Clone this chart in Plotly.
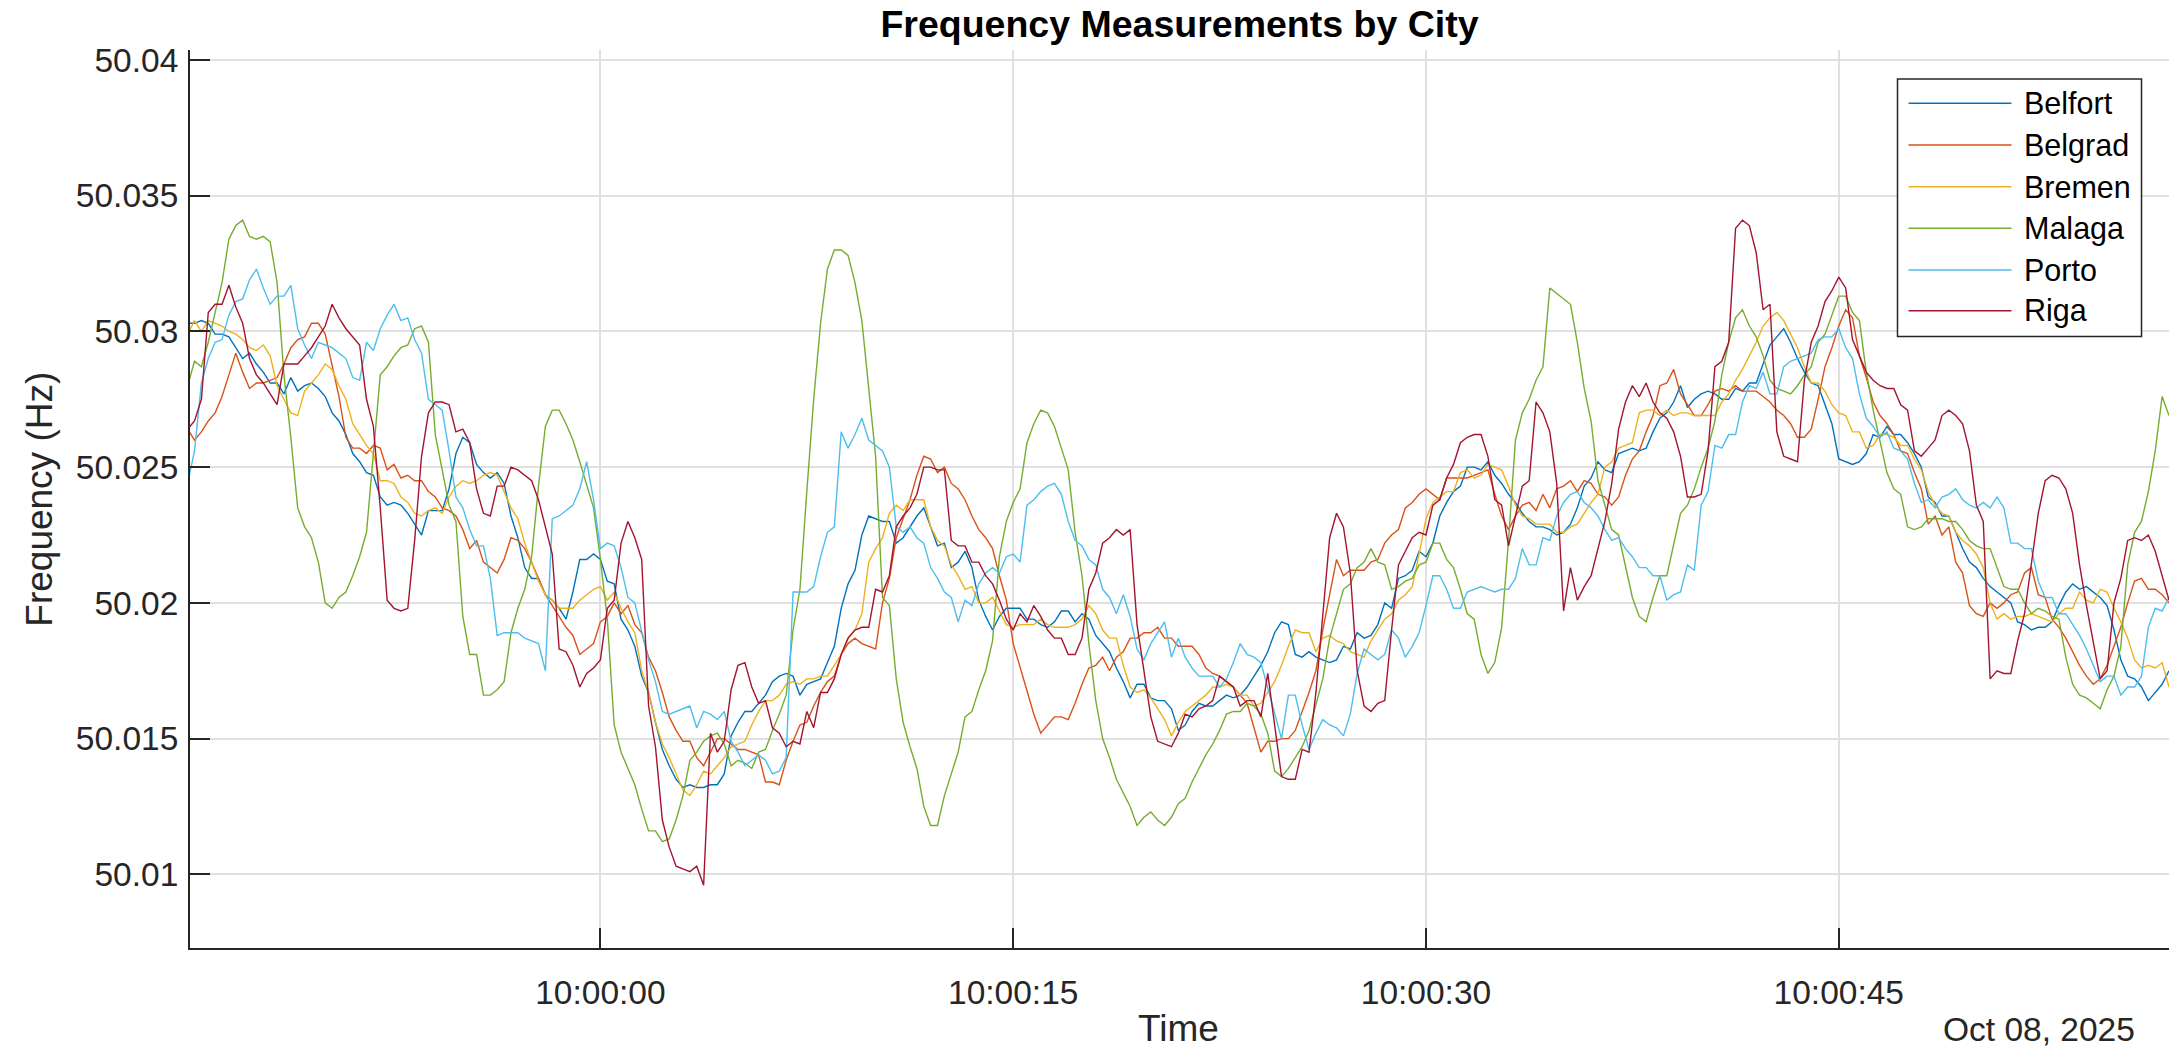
import pandas as pd
import plotly.graph_objects as go

# ---- data: grid frequency per city (Hz), sampled every 0.25 s from 09:59:45 ----
START = "2025-10-08 09:59:45"
STEP_S = 0.25

cities = ["Belfort", "Belgrad", "Bremen", "Malaga", "Porto", "Riga"]

belfort = [
    50.0303, 50.0303, 50.0304, 50.0303, 50.0299, 50.0299, 50.0298, 50.0294, 50.0290, 50.0292, 50.0288, 50.0285, 50.0281, 50.0281, 50.0277, 50.0283, 50.0278, 50.0280,
    50.0281, 50.0279, 50.0276, 50.0270, 50.0267, 50.0262, 50.0255, 50.0252, 50.0248, 50.0247, 50.0239, 50.0236, 50.0237, 50.0236, 50.0233, 50.0229, 50.0225, 50.0234,
    50.0234, 50.0234, 50.0242, 50.0255, 50.0261, 50.0259, 50.0251, 50.0248, 50.0246, 50.0248, 50.0244, 50.0232, 50.0224, 50.0213, 50.0209, 50.0209, 50.0203, 50.0201,
    50.0198, 50.0194, 50.0204, 50.0216, 50.0216, 50.0218, 50.0216, 50.0208, 50.0207, 50.0194, 50.0190, 50.0184, 50.0173, 50.0167, 50.0156, 50.0146, 50.0140, 50.0135,
    50.0132, 50.0133, 50.0132, 50.0132, 50.0133, 50.0133, 50.0137, 50.0151, 50.0156, 50.0160, 50.0160, 50.0163, 50.0166, 50.0171, 50.0173, 50.0174, 50.0173, 50.0166,
    50.0170, 50.0171, 50.0172, 50.0178, 50.0184, 50.0198, 50.0207, 50.0212, 50.0225, 50.0232, 50.0231, 50.0230, 50.0230, 50.0222, 50.0224, 50.0228, 50.0232, 50.0235,
    50.0228, 50.0221, 50.0222, 50.0213, 50.0215, 50.0219, 50.0213, 50.0201, 50.0195, 50.0190, 50.0195, 50.0198, 50.0198, 50.0198, 50.0194, 50.0194, 50.0192, 50.0191,
    50.0193, 50.0197, 50.0197, 50.0193, 50.0196, 50.0194, 50.0188, 50.0185, 50.0182, 50.0176, 50.0171, 50.0165, 50.0170, 50.0170, 50.0165, 50.0164, 50.0164, 50.0161,
    50.0153, 50.0155, 50.0160, 50.0163, 50.0162, 50.0162, 50.0164, 50.0166, 50.0165, 50.0166, 50.0169, 50.0173, 50.0177, 50.0182, 50.0189, 50.0193, 50.0192, 50.0181,
    50.0180, 50.0182, 50.0180, 50.0179, 50.0178, 50.0179, 50.0184, 50.0183, 50.0189, 50.0187, 50.0188, 50.0192, 50.0200, 50.0198, 50.0209, 50.0210, 50.0212, 50.0219,
    50.0217, 50.0222, 50.0232, 50.0237, 50.0241, 50.0243, 50.0250, 50.0250, 50.0249, 50.0252, 50.0247, 50.0244, 50.0240, 50.0237, 50.0233, 50.0230, 50.0228, 50.0228,
    50.0227, 50.0225, 50.0226, 50.0229, 50.0235, 50.0243, 50.0246, 50.0252, 50.0249, 50.0248, 50.0255, 50.0256, 50.0257, 50.0256, 50.0257, 50.0263, 50.0268, 50.0270,
    50.0274, 50.0280, 50.0272, 50.0275, 50.0277, 50.0278, 50.0277, 50.0275, 50.0275, 50.0279, 50.0278, 50.0281, 50.0281, 50.0288, 50.0295, 50.0298, 50.0301, 50.0296,
    50.0290, 50.0285, 50.0281, 50.0280, 50.0273, 50.0266, 50.0253, 50.0252, 50.0251, 50.0252, 50.0255, 50.0262, 50.0261, 50.0265, 50.0262, 50.0262, 50.0259,
    50.0255, 50.0250, 50.0239, 50.0237, 50.0232, 50.0232, 50.0226, 50.0220, 50.0215, 50.0213, 50.0209, 50.0206, 50.0204, 50.0202, 50.0200, 50.0193, 50.0192, 50.0190, 50.0191,
    50.0191, 50.0193, 50.0199, 50.0204, 50.0207, 50.0205, 50.0206, 50.0204, 50.0202, 50.0199, 50.0190, 50.0179, 50.0173, 50.0172, 50.0169, 50.0164, 50.0167, 50.0170, 50.0175,
]

belgrad = [
    50.0264, 50.0260, 50.0263, 50.0267, 50.0270, 50.0276, 50.0284, 50.0292, 50.0285, 50.0279, 50.0281, 50.0281, 50.0282, 50.0283, 50.0288, 50.0294, 50.0297, 50.0298,
    50.0303, 50.0303, 50.0299, 50.0287, 50.0276, 50.0261, 50.0257, 50.0257, 50.0255, 50.0258, 50.0257, 50.0249, 50.0251, 50.0246, 50.0247, 50.0245, 50.0245, 50.0241,
    50.0239, 50.0235, 50.0234, 50.0232, 50.0227, 50.0220, 50.0223, 50.0215, 50.0213, 50.0211, 50.0216, 50.0224, 50.0223, 50.0220, 50.0215, 50.0209, 50.0203, 50.0199,
    50.0195, 50.0191, 50.0188, 50.0181, 50.0183, 50.0185, 50.0193, 50.0195, 50.0200, 50.0196, 50.0199, 50.0192, 50.0189, 50.0180, 50.0175, 50.0167, 50.0158, 50.0153,
    50.0149, 50.0149, 50.0143, 50.0140, 50.0145, 50.0150, 50.0150, 50.0148, 50.0146, 50.0146, 50.0145, 50.0144, 50.0134, 50.0134, 50.0133, 50.0142, 50.0149, 50.0155,
    50.0156, 50.0162, 50.0167, 50.0171, 50.0173, 50.0181, 50.0185, 50.0187, 50.0185, 50.0184, 50.0183, 50.0200, 50.0209, 50.0224, 50.0231, 50.0238, 50.0247, 50.0254,
    50.0253, 50.0248, 50.0250, 50.0244, 50.0242, 50.0238, 50.0232, 50.0227, 50.0224, 50.0220, 50.0210, 50.0201, 50.0185, 50.0176, 50.0168, 50.0159, 50.0152, 50.0155,
    50.0158, 50.0158, 50.0157, 50.0163, 50.0170, 50.0176, 50.0177, 50.0180, 50.0175, 50.0180, 50.0182, 50.0187, 50.0187, 50.0189, 50.0189, 50.0191, 50.0187, 50.0187,
    50.0184, 50.0184, 50.0184, 50.0181, 50.0176, 50.0174, 50.0173, 50.0171, 50.0169, 50.0166, 50.0163, 50.0154, 50.0145, 50.0149, 50.0149, 50.0150, 50.0150, 50.0153,
    50.0160, 50.0167, 50.0175, 50.0190, 50.0203, 50.0216, 50.0210, 50.0212, 50.0212, 50.0212, 50.0215, 50.0216, 50.0222, 50.0225, 50.0227, 50.0235, 50.0237, 50.0240,
    50.0242, 50.0240, 50.0238, 50.0246, 50.0246, 50.0246, 50.0246, 50.0247, 50.0248, 50.0249, 50.0240, 50.0232, 50.0227, 50.0232, 50.0236, 50.0237, 50.0234, 50.0240,
    50.0235, 50.0242, 50.0243, 50.0245, 50.0241, 50.0245, 50.0244, 50.0240, 50.0239, 50.0236, 50.0239, 50.0247, 50.0253, 50.0256, 50.0263, 50.0269, 50.0280, 50.0281,
    50.0286, 50.0277, 50.0273, 50.0269, 50.0269, 50.0273, 50.0278, 50.0279, 50.0278, 50.0280, 50.0278, 50.0278, 50.0278, 50.0276, 50.0274, 50.0271, 50.0269, 50.0266,
    50.0261, 50.0261, 50.0264, 50.0275, 50.0287, 50.0294, 50.0302, 50.0308, 50.0305, 50.0291, 50.0283, 50.0274, 50.0269, 50.0266, 50.0262, 50.0256, 50.0255,
    50.0248, 50.0242, 50.0229, 50.0232, 50.0225, 50.0228, 50.0215, 50.0211, 50.0199, 50.0196, 50.0195, 50.0200, 50.0198, 50.0200, 50.0203, 50.0204, 50.0211, 50.0213, 50.0203,
    50.0202, 50.0194, 50.0191, 50.0187, 50.0182, 50.0177, 50.0173, 50.0170, 50.0172, 50.0177, 50.0184, 50.0191, 50.0200, 50.0208, 50.0209, 50.0205, 50.0205, 50.0203, 50.0200,
]

bremen = [
    50.0299, 50.0304, 50.0300, 50.0304, 50.0303, 50.0302, 50.0300, 50.0299, 50.0297, 50.0294, 50.0293, 50.0295, 50.0291, 50.0280, 50.0275, 50.0270, 50.0269, 50.0278,
    50.0281, 50.0284, 50.0288, 50.0286, 50.0280, 50.0275, 50.0266, 50.0262, 50.0258, 50.0255, 50.0245, 50.0245, 50.0244, 50.0239, 50.0237, 50.0233, 50.0232, 50.0234,
    50.0235, 50.0233, 50.0239, 50.0243, 50.0245, 50.0244, 50.0245, 50.0247, 50.0248, 50.0247, 50.0241, 50.0235, 50.0231, 50.0222, 50.0215, 50.0208, 50.0203, 50.0201,
    50.0198, 50.0198, 50.0198, 50.0201, 50.0203, 50.0205, 50.0206, 50.0201, 50.0204, 50.0198, 50.0193, 50.0189, 50.0175, 50.0167, 50.0156, 50.0148, 50.0143, 50.0137,
    50.0131, 50.0129, 50.0133, 50.0138, 50.0137, 50.0140, 50.0143, 50.0147, 50.0148, 50.0149, 50.0155, 50.0160, 50.0164, 50.0164, 50.0166, 50.0170, 50.0171, 50.0170,
    50.0172, 50.0172, 50.0173, 50.0173, 50.0177, 50.0181, 50.0187, 50.0190, 50.0196, 50.0215, 50.0220, 50.0224, 50.0233, 50.0236, 50.0234, 50.0238, 50.0238, 50.0238,
    50.0228, 50.0223, 50.0221, 50.0214, 50.0210, 50.0205, 50.0206, 50.0200, 50.0200, 50.0202, 50.0197, 50.0192, 50.0191, 50.0192, 50.0192, 50.0192, 50.0194, 50.0192,
    50.0191, 50.0191, 50.0191, 50.0192, 50.0194, 50.0199, 50.0196, 50.0190, 50.0187, 50.0187, 50.0177, 50.0169, 50.0167, 50.0168, 50.0165, 50.0161, 50.0157, 50.0151,
    50.0156, 50.0160, 50.0162, 50.0164, 50.0166, 50.0169, 50.0169, 50.0170, 50.0169, 50.0166, 50.0166, 50.0162, 50.0163, 50.0167, 50.0171, 50.0177, 50.0184, 50.0190,
    50.0189, 50.0189, 50.0182, 50.0187, 50.0188, 50.0186, 50.0185, 50.0182, 50.0181, 50.0180, 50.0186, 50.0190, 50.0194, 50.0196, 50.0201, 50.0203, 50.0206, 50.0218,
    50.0231, 50.0237, 50.0239, 50.0241, 50.0241, 50.0248, 50.0249, 50.0246, 50.0247, 50.0251, 50.0250, 50.0249, 50.0243, 50.0236, 50.0232, 50.0231, 50.0229, 50.0229,
    50.0229, 50.0226, 50.0226, 50.0228, 50.0229, 50.0233, 50.0237, 50.0240, 50.0250, 50.0252, 50.0257, 50.0258, 50.0259, 50.0270, 50.0271, 50.0271, 50.0269, 50.0271,
    50.0269, 50.0270, 50.0270, 50.0269, 50.0269, 50.0269, 50.0269, 50.0274, 50.0277, 50.0282, 50.0286, 50.0291, 50.0296, 50.0302, 50.0305, 50.0307, 50.0304, 50.0299,
    50.0294, 50.0287, 50.0281, 50.0281, 50.0278, 50.0273, 50.0270, 50.0269, 50.0263, 50.0263, 50.0257, 50.0258, 50.0262, 50.0262, 50.0261, 50.0258, 50.0258,
    50.0253, 50.0249, 50.0241, 50.0236, 50.0233, 50.0232, 50.0226, 50.0223, 50.0221, 50.0218, 50.0213, 50.0200, 50.0194, 50.0196, 50.0194, 50.0195, 50.0195, 50.0196, 50.0195,
    50.0194, 50.0193, 50.0196, 50.0198, 50.0198, 50.0204, 50.0201, 50.0200, 50.0205, 50.0204, 50.0198, 50.0193, 50.0187, 50.0179, 50.0176, 50.0177, 50.0176, 50.0178, 50.0169,
]

malaga = [
    50.0280, 50.0289, 50.0287, 50.0296, 50.0307, 50.0318, 50.0334, 50.0339, 50.0341, 50.0335, 50.0334, 50.0335, 50.0333, 50.0318, 50.0284, 50.0261, 50.0235, 50.0228,
    50.0224, 50.0215, 50.0200, 50.0198, 50.0202, 50.0204, 50.0210, 50.0217, 50.0226, 50.0254, 50.0284, 50.0287, 50.0291, 50.0294, 50.0295, 50.0301, 50.0302, 50.0296,
    50.0262, 50.0249, 50.0236, 50.0230, 50.0195, 50.0181, 50.0181, 50.0166, 50.0166, 50.0168, 50.0171, 50.0189, 50.0198, 50.0205, 50.0217, 50.0243, 50.0265, 50.0271,
    50.0271, 50.0266, 50.0260, 50.0252, 50.0243, 50.0235, 50.0216, 50.0194, 50.0155, 50.0145, 50.0139, 50.0133, 50.0124, 50.0116, 50.0116, 50.0112, 50.0113, 50.0120,
    50.0129, 50.0142, 50.0145, 50.0149, 50.0151, 50.0152, 50.0148, 50.0140, 50.0142, 50.0141, 50.0139, 50.0145, 50.0146, 50.0153, 50.0159, 50.0166, 50.0190, 50.0205,
    50.0241, 50.0275, 50.0303, 50.0323, 50.0330, 50.0330, 50.0328, 50.0318, 50.0304, 50.0280, 50.0254, 50.0202, 50.0199, 50.0172, 50.0156, 50.0147, 50.0139, 50.0125,
    50.0118, 50.0118, 50.0129, 50.0137, 50.0145, 50.0158, 50.0160, 50.0168, 50.0175, 50.0186, 50.0217, 50.0230, 50.0237, 50.0242, 50.0259, 50.0266, 50.0271, 50.0270,
    50.0265, 50.0257, 50.0249, 50.0226, 50.0210, 50.0185, 50.0164, 50.0150, 50.0143, 50.0135, 50.0130, 50.0125, 50.0118, 50.0121, 50.0123, 50.0120, 50.0118, 50.0121,
    50.0126, 50.0128, 50.0134, 50.0139, 50.0144, 50.0148, 50.0153, 50.0159, 50.0160, 50.0160, 50.0163, 50.0162, 50.0159, 50.0152, 50.0138, 50.0136, 50.0139, 50.0143,
    50.0147, 50.0153, 50.0163, 50.0172, 50.0187, 50.0196, 50.0205, 50.0207, 50.0213, 50.0215, 50.0220, 50.0215, 50.0214, 50.0205, 50.0206, 50.0208, 50.0209, 50.0214,
    50.0215, 50.0222, 50.0222, 50.0216, 50.0213, 50.0205, 50.0196, 50.0194, 50.0181, 50.0174, 50.0178, 50.0191, 50.0223, 50.0260, 50.0270, 50.0275, 50.0282, 50.0287,
    50.0316, 50.0314, 50.0312, 50.0310, 50.0296, 50.0279, 50.0267, 50.0245, 50.0236, 50.0227, 50.0225, 50.0213, 50.0202, 50.0195, 50.0193, 50.0202, 50.0210, 50.0210,
    50.0221, 50.0233, 50.0236, 50.0242, 50.0250, 50.0257, 50.0267, 50.0284, 50.0296, 50.0305, 50.0308, 50.0302, 50.0298, 50.0291, 50.0282, 50.0279, 50.0278, 50.0277,
    50.0280, 50.0284, 50.0287, 50.0296, 50.0299, 50.0306, 50.0313, 50.0313, 50.0307, 50.0304, 50.0285, 50.0271, 50.0259, 50.0248, 50.0242, 50.0240, 50.0228,
    50.0227, 50.0228, 50.0231, 50.0231, 50.0231, 50.0230, 50.0230, 50.0227, 50.0223, 50.0221, 50.0220, 50.0220, 50.0213, 50.0206, 50.0205, 50.0205, 50.0200, 50.0196, 50.0198,
    50.0197, 50.0195, 50.0194, 50.0180, 50.0170, 50.0166, 50.0165, 50.0163, 50.0161, 50.0168, 50.0173, 50.0184, 50.0214, 50.0226, 50.0230, 50.0241, 50.0256, 50.0276, 50.0269,
]

porto = [
    50.0244, 50.0256, 50.0281, 50.0290, 50.0296, 50.0297, 50.0306, 50.0311, 50.0312, 50.0319, 50.0323, 50.0316, 50.0310, 50.0313, 50.0313, 50.0317, 50.0301, 50.0295,
    50.0290, 50.0296, 50.0295, 50.0294, 50.0292, 50.0290, 50.0283, 50.0282, 50.0296, 50.0293, 50.0301, 50.0306, 50.0310, 50.0304, 50.0305, 50.0297, 50.0292, 50.0275,
    50.0273, 50.0271, 50.0256, 50.0239, 50.0235, 50.0227, 50.0221, 50.0221, 50.0209, 50.0188, 50.0189, 50.0189, 50.0189, 50.0187, 50.0186, 50.0185, 50.0175, 50.0231,
    50.0232, 50.0234, 50.0236, 50.0242, 50.0252, 50.0238, 50.0220, 50.0222, 50.0221, 50.0213, 50.0202, 50.0200, 50.0190, 50.0179, 50.0171, 50.0160, 50.0159, 50.0160,
    50.0161, 50.0162, 50.0154, 50.0160, 50.0159, 50.0157, 50.0160, 50.0149, 50.0145, 50.0140, 50.0142, 50.0144, 50.0142, 50.0137, 50.0138, 50.0143, 50.0204, 50.0204,
    50.0204, 50.0206, 50.0217, 50.0226, 50.0228, 50.0263, 50.0257, 50.0262, 50.0268, 50.0260, 50.0258, 50.0256, 50.0250, 50.0228, 50.0226, 50.0228, 50.0224, 50.0222,
    50.0213, 50.0209, 50.0204, 50.0202, 50.0193, 50.0201, 50.0199, 50.0207, 50.0211, 50.0213, 50.0211, 50.0217, 50.0218, 50.0215, 50.0236, 50.0238, 50.0241, 50.0243,
    50.0244, 50.0240, 50.0230, 50.0223, 50.0221, 50.0216, 50.0214, 50.0205, 50.0202, 50.0196, 50.0203, 50.0195, 50.0183, 50.0179, 50.0185, 50.0189, 50.0193, 50.0180,
    50.0187, 50.0180, 50.0176, 50.0173, 50.0173, 50.0173, 50.0169, 50.0172, 50.0178, 50.0185, 50.0181, 50.0180, 50.0178, 50.0169, 50.0160, 50.0150, 50.0166, 50.0166,
    50.0155, 50.0146, 50.0152, 50.0157, 50.0155, 50.0154, 50.0151, 50.0159, 50.0174, 50.0183, 50.0181, 50.0179, 50.0181, 50.0190, 50.0187, 50.0180, 50.0184, 50.0189,
    50.0199, 50.0210, 50.0210, 50.0205, 50.0198, 50.0198, 50.0204, 50.0205, 50.0206, 50.0205, 50.0204, 50.0205, 50.0205, 50.0209, 50.0220, 50.0214, 50.0214, 50.0224,
    50.0223, 50.0232, 50.0237, 50.0240, 50.0241, 50.0237, 50.0235, 50.0232, 50.0227, 50.0223, 50.0224, 50.0220, 50.0217, 50.0213, 50.0213, 50.0210, 50.0210, 50.0201,
    50.0203, 50.0204, 50.0214, 50.0212, 50.0236, 50.0241, 50.0258, 50.0257, 50.0262, 50.0262, 50.0274, 50.0280, 50.0279, 50.0285, 50.0277, 50.0277, 50.0287, 50.0289,
    50.0290, 50.0291, 50.0292, 50.0297, 50.0298, 50.0298, 50.0301, 50.0294, 50.0290, 50.0277, 50.0268, 50.0265, 50.0261, 50.0263, 50.0257, 50.0256, 50.0253,
    50.0244, 50.0237, 50.0238, 50.0235, 50.0239, 50.0240, 50.0242, 50.0238, 50.0236, 50.0235, 50.0237, 50.0235, 50.0239, 50.0235, 50.0222, 50.0222, 50.0220, 50.0220, 50.0208,
    50.0202, 50.0202, 50.0196, 50.0196, 50.0192, 50.0188, 50.0183, 50.0177, 50.0171, 50.0173, 50.0173, 50.0166, 50.0169, 50.0169, 50.0173, 50.0191, 50.0198, 50.0197, 50.0202,
]

riga = [
    50.0264, 50.0267, 50.0275, 50.0307, 50.0310, 50.0310, 50.0317, 50.0309, 50.0303, 50.0290, 50.0284, 50.0281, 50.0277, 50.0273, 50.0288, 50.0288, 50.0288, 50.0291,
    50.0294, 50.0298, 50.0302, 50.0310, 50.0305, 50.0301, 50.0298, 50.0295, 50.0275, 50.0265, 50.0235, 50.0201, 50.0198, 50.0197, 50.0198, 50.0223, 50.0254, 50.0270,
    50.0274, 50.0274, 50.0273, 50.0263, 50.0264, 50.0259, 50.0242, 50.0233, 50.0232, 50.0243, 50.0243, 50.0250, 50.0249, 50.0247, 50.0245, 50.0238, 50.0228, 50.0218,
    50.0183, 50.0182, 50.0177, 50.0169, 50.0174, 50.0176, 50.0179, 50.0198, 50.0201, 50.0222, 50.0230, 50.0224, 50.0216, 50.0162, 50.0147, 50.0120, 50.0110, 50.0103,
    50.0102, 50.0101, 50.0103, 50.0096, 50.0152, 50.0145, 50.0149, 50.0168, 50.0177, 50.0178, 50.0169, 50.0163, 50.0164, 50.0154, 50.0152, 50.0147, 50.0149, 50.0148,
    50.0160, 50.0154, 50.0167, 50.0167, 50.0172, 50.0181, 50.0187, 50.0190, 50.0191, 50.0191, 50.0205, 50.0204, 50.0210, 50.0228, 50.0232, 50.0235, 50.0240, 50.0250,
    50.0250, 50.0249, 50.0249, 50.0223, 50.0221, 50.0221, 50.0215, 50.0215, 50.0210, 50.0207, 50.0201, 50.0194, 50.0190, 50.0196, 50.0193, 50.0199, 50.0195, 50.0190,
    50.0187, 50.0187, 50.0181, 50.0181, 50.0187, 50.0205, 50.0211, 50.0222, 50.0224, 50.0227, 50.0225, 50.0227, 50.0192, 50.0175, 50.0158, 50.0149, 50.0148, 50.0147,
    50.0152, 50.0159, 50.0158, 50.0161, 50.0162, 50.0164, 50.0173, 50.0171, 50.0169, 50.0162, 50.0164, 50.0164, 50.0158, 50.0174, 50.0155, 50.0136, 50.0135, 50.0135,
    50.0146, 50.0145, 50.0167, 50.0197, 50.0224, 50.0233, 50.0228, 50.0211, 50.0175, 50.0162, 50.0160, 50.0163, 50.0164, 50.0190, 50.0214, 50.0219, 50.0224, 50.0226,
    50.0225, 50.0236, 50.0238, 50.0246, 50.0251, 50.0259, 50.0261, 50.0262, 50.0262, 50.0254, 50.0238, 50.0236, 50.0221, 50.0232, 50.0243, 50.0245, 50.0274, 50.0270,
    50.0263, 50.0244, 50.0197, 50.0213, 50.0201, 50.0206, 50.0210, 50.0220, 50.0230, 50.0244, 50.0264, 50.0274, 50.0280, 50.0276, 50.0281, 50.0274, 50.0270, 50.0268,
    50.0263, 50.0254, 50.0239, 50.0239, 50.0240, 50.0256, 50.0287, 50.0289, 50.0296, 50.0338, 50.0341, 50.0339, 50.0329, 50.0308, 50.0310, 50.0263, 50.0254, 50.0253,
    50.0252, 50.0282, 50.0296, 50.0302, 50.0311, 50.0315, 50.0320, 50.0316, 50.0297, 50.0291, 50.0285, 50.0282, 50.0280, 50.0279, 50.0279, 50.0273, 50.0271,
    50.0256, 50.0254, 50.0257, 50.0260, 50.0269, 50.0271, 50.0269, 50.0266, 50.0256, 50.0236, 50.0230, 50.0172, 50.0175, 50.0174, 50.0174, 50.0186, 50.0196, 50.0214, 50.0233,
    50.0245, 50.0247, 50.0246, 50.0242, 50.0233, 50.0214, 50.0199, 50.0186, 50.0172, 50.0175, 50.0200, 50.0209, 50.0223, 50.0224, 50.0223, 50.0225, 50.0219, 50.0210, 50.0201,
]

series = [belfort, belgrad, bremen, malaga, porto, riga]

ytick_vals = [50.01, 50.015, 50.02, 50.025, 50.03, 50.035, 50.04]
ytick_text = ["50.01", "50.015", "50.02", "50.025", "50.03", "50.035", "50.04"]
xtick_times = ["2025-10-08 10:00:00", "2025-10-08 10:00:15",
               "2025-10-08 10:00:30", "2025-10-08 10:00:45"]
xtick_text = ["10:00:00", "10:00:15", "10:00:30", "10:00:45"]

# ---- styling ----
colors = ["#0072BD", "#D95319", "#EDB120", "#77AC30", "#4DBEEE", "#A2142F"]
FONT = "Liberation Sans, Arial, Helvetica, sans-serif"
AXIS_COLOR = "#262626"
GRID_COLOR = "#e0e0e0"

W, H = 2169, 1053
PLOT_L, PLOT_R, PLOT_T, PLOT_B = 190, 2169, 50, 948


def px_x(x):
    return (x - PLOT_L) / (PLOT_R - PLOT_L)


def px_y(y):
    return (PLOT_B - y) / (PLOT_B - PLOT_T)


fig = go.Figure()
for name, vals, col in zip(cities, series, colors):
    t = pd.Timestamp(START) + pd.to_timedelta([i * STEP_S for i in range(len(vals))], unit="s")
    fig.add_trace(go.Scatter(x=t, y=vals, mode="lines", name=name,
                             line=dict(color=col, width=1.4), showlegend=False))

# legend box drawn on top of the data
LEG_X0, LEG_X1, LEG_Y0, LEG_Y1 = 1897.5, 2141.5, 79, 336.5
ROW_Y = [103.3, 145.0, 186.7, 228.3, 270.0, 310.7]
shapes = [dict(type="rect", xref="paper", yref="paper",
               x0=px_x(LEG_X0), x1=px_x(LEG_X1), y0=px_y(LEG_Y1), y1=px_y(LEG_Y0),
               fillcolor="white", line=dict(color=AXIS_COLOR, width=1.5), layer="above")]
annotations = []
for name, col, ry in zip(cities, colors, ROW_Y):
    shapes.append(dict(type="line", xref="paper", yref="paper",
                       x0=px_x(1908.5), x1=px_x(2011.5), y0=px_y(ry), y1=px_y(ry),
                       line=dict(color=col, width=1.5), layer="above"))
    annotations.append(dict(text=name, xref="paper", yref="paper", x=px_x(2021.5), y=px_y(ry),
                            xanchor="left", yanchor="middle", showarrow=False,
                            font=dict(family=FONT, size=30.5, color="black")))

# axis titles and date stamp
annotations += [
    dict(text="Frequency (Hz)", xref="paper", yref="paper", x=px_x(38.7), y=px_y(499),
         textangle=-90, xanchor="center", yanchor="middle", showarrow=False,
         font=dict(family=FONT, size=37, color=AXIS_COLOR)),
    dict(text="Time", xref="paper", yref="paper", x=px_x(1178.6), y=px_y(1028.5),
         xanchor="center", yanchor="middle", showarrow=False,
         font=dict(family=FONT, size=37, color=AXIS_COLOR)),
    dict(text="Oct 08, 2025", xref="paper", yref="paper", x=px_x(2137), y=px_y(1029.5),
         xanchor="right", yanchor="middle", showarrow=False,
         font=dict(family=FONT, size=33.5, color=AXIS_COLOR)),
]

fig.update_layout(
    width=W, height=H,
    margin=dict(l=PLOT_L, r=W - PLOT_R, t=PLOT_T, b=H - PLOT_B, pad=0),
    paper_bgcolor="white", plot_bgcolor="white",
    title=dict(text="Frequency Measurements by City", x=0.5, xref="paper", xanchor="center",
               y=1 - 23.5 / H, yref="container", yanchor="middle",
               font=dict(family=FONT, size=37.5, color="black", weight="bold")),
    shapes=shapes, annotations=annotations, showlegend=False,
)

fig.update_xaxes(
    type="date",
    range=["2025-10-08 09:59:45.086", "2025-10-08 10:00:57.0"],
    tickvals=xtick_times, ticktext=xtick_text,
    showgrid=True, gridcolor=GRID_COLOR, gridwidth=1.5,
    showline=True, linecolor=AXIS_COLOR, linewidth=2, mirror=False,
    ticks="inside", ticklen=20, tickwidth=2, tickcolor=AXIS_COLOR,
    ticklabelstandoff=14,
    tickfont=dict(family=FONT, size=33.5, color=AXIS_COLOR),
    zeroline=False,
)
fig.update_yaxes(
    range=[50.007285, 50.040368],
    tickvals=ytick_vals, ticktext=ytick_text,
    showgrid=True, gridcolor=GRID_COLOR, gridwidth=1.5,
    showline=True, linecolor=AXIS_COLOR, linewidth=2, mirror=False,
    ticks="inside", ticklen=20, tickwidth=2, tickcolor=AXIS_COLOR,
    ticklabelstandoff=3,
    tickfont=dict(family=FONT, size=33.5, color=AXIS_COLOR),
    zeroline=False,
)

fig.write_html("out.html")
